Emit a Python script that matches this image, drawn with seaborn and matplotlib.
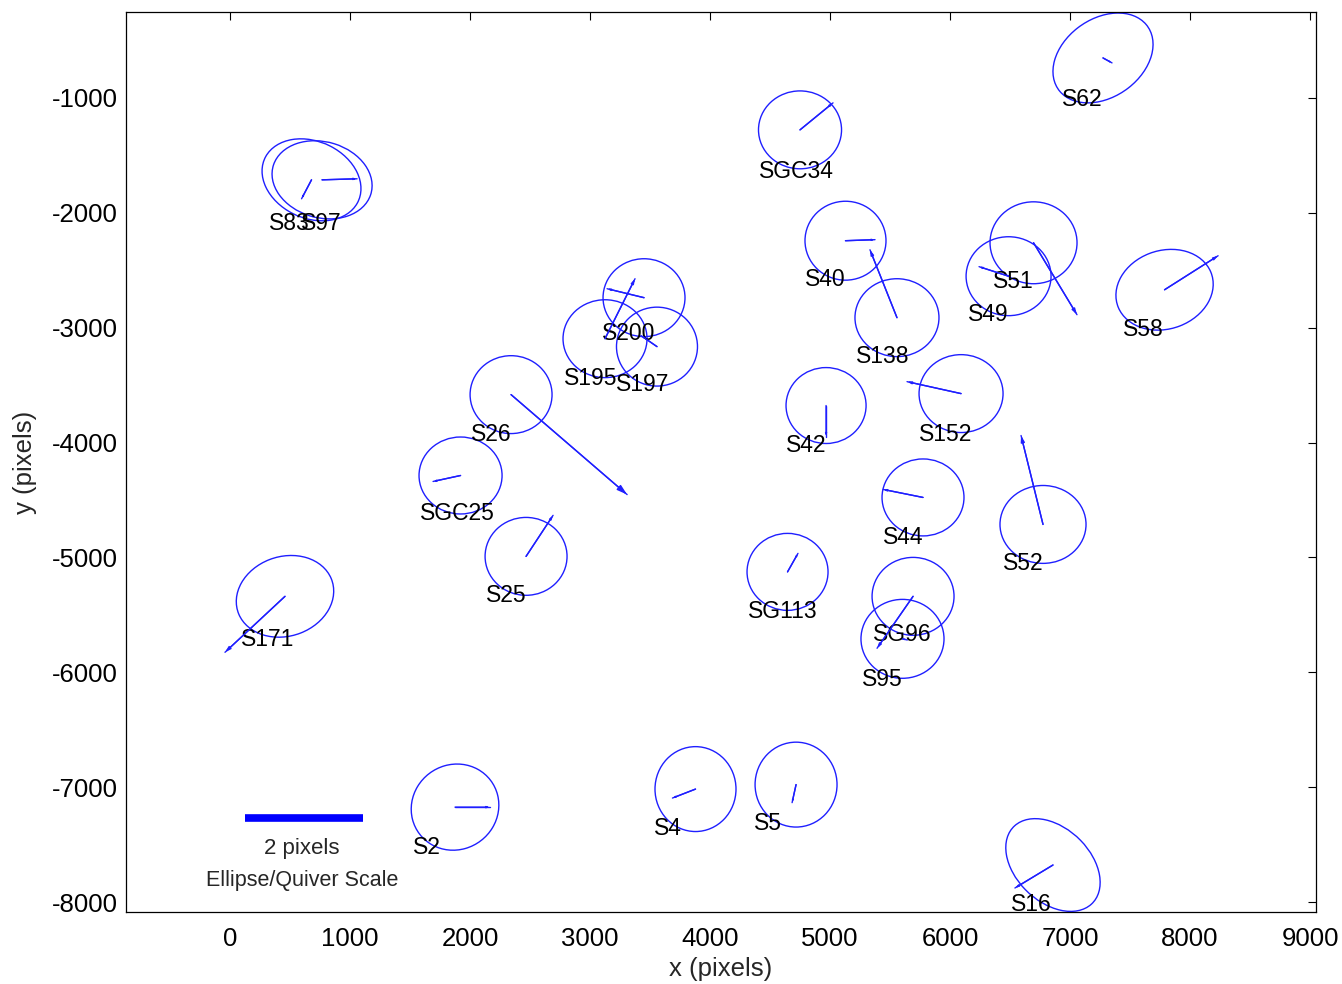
import numpy as np
import pandas as pd
import matplotlib
matplotlib.use("Agg")
import matplotlib.pyplot as plt
import seaborn as sns
from matplotlib.patches import Ellipse

# ---------------- data (detector pixel coordinates) ----------------
names = ["S62", "SGC34", "S83", "S97", "S40", "S51", "S49", "S58", "S138",
         "S200", "S195", "S197", "S26", "SGC25", "S25", "S42", "S152", "S44",
         "S52", "SG113", "SG96", "S95", "S171", "S2", "S4", "S5", "S16"]
star_x = [7275, 4750, 679, 767, 5129, 6696, 6488, 7788, 5558,
          3450, 3125, 3558, 2342, 1921, 2467, 4967, 6092, 5775,
          6775, 4646, 5692, 5604, 458, 1875, 3879, 4717, 6858]
star_y = [-652, -1278, -1713, -1713, -2243, -2261, -2552, -2670, -2913,
          -2739, -3096, -3165, -3583, -4287, -4991, -3678, -3574, -4478,
          -4713, -5126, -5339, -5709, -5339, -7174, -7017, -6978, -7678]
# error ellipse full widths / heights (scaled) and tilt angle (deg)
ell_w = [925, 692, 864, 850, 675, 725, 708, 830, 700,
         683, 700, 675, 683, 692, 683, 667, 700, 683,
         717, 675, 683, 692, 830, 760, 675, 683, 935]
ell_h = [672, 678, 665, 660, 687, 713, 687, 680, 678,
         678, 678, 687, 678, 670, 678, 661, 678, 670,
         678, 670, 678, 687, 690, 720, 739, 739, 629]
ell_ang = [39, 0, -28, -18, 0, 0, 0, 22, 0,
           0, 0, 0, 0, 0, 0, 0, 0, 0,
           0, 0, 0, 0, 22, 60, 0, 0, -47]
# residual vectors (scaled)
vec_u = [75, 275, -83, 292, 246, 362, -246, 446, -225,
         -308, 250, -133, 967, -229, 225, 0, -450, -333,
         -183, 87, -300, 40, -500, 292, -192, -33, -317]
vec_v = [-43, 235, -165, 9, 9, -626, 83, 296, 591,
         78, 522, 96, -870, -52, 357, -270, 104, 70,
         774, 161, -452, -10, -487, 0, -78, -157, -200]
# label anchor positions
lab_x = [7100, 4717, 492, 758, 4958, 6525, 6317, 7608, 5442,
         3325, 3008, 3442, 2175, 1892, 2300, 4800, 5967, 5608,
         6608, 4608, 5600, 5433, 317, 1642, 3650, 4483, 6675]
lab_y = [-1017, -1643, -2096, -2096, -2583, -2600, -2887, -3017, -3252,
         -3052, -3443, -3496, -3930, -4617, -5330, -4026, -3930, -4826,
         -5052, -5470, -5670, -6061, -5713, -7522, -7357, -7313, -8026]

scale_bar_x = [125, 1108]   # 2 pixels
scale_bar_y = -7270
scale_text = ["2 pixels", "Ellipse/Quiver Scale"]
scale_text_x = 600
scale_text_y = [-7531, -7809]

x_ticks = list(range(0, 9001, 1000))
y_ticks = list(range(-8000, -999, 1000))

# ---------------- style ----------------
sns.set_style("white")
plt.rcParams["font.family"] = ["Liberation Sans", "DejaVu Sans"]
plt.rcParams["axes.unicode_minus"] = False

BLUE = "#1f1fff"

fig = plt.figure(figsize=(13.42, 9.84), dpi=100)
fig.patch.set_facecolor("white")
ax = fig.add_axes([126 / 1342, 1 - 912 / 984, 1190 / 1342, 900 / 984])

# quiver shafts via seaborn
rows = []
for n, x, y, u, v in zip(names, star_x, star_y, vec_u, vec_v):
    rows.append({"name": n, "x": x, "y": y, "order": 0})
    rows.append({"name": n, "x": x + u, "y": y + v, "order": 1})
seg = pd.DataFrame(rows)
sns.lineplot(data=seg, x="x", y="y", units="name", estimator=None, sort=False,
             color=BLUE, lw=1.0, ax=ax, legend=False)

# ellipses
for x, y, w, h, a in zip(star_x, star_y, ell_w, ell_h, ell_ang):
    ax.add_patch(Ellipse((x, y), w, h, angle=a, fill=False, ec=BLUE, lw=1.0))

# labels
for n, lx, ly in zip(names, lab_x, lab_y):
    ax.text(lx, ly, n, ha="center", va="center", fontsize=16.5, color="black")

# scale bar
ax.plot(scale_bar_x, [scale_bar_y, scale_bar_y], color="#0000ff", lw=5.5,
        solid_capstyle="butt")
ax.text(scale_text_x, scale_text_y[0], scale_text[0], ha="center", va="center",
        fontsize=16)
ax.text(scale_text_x, scale_text_y[1], scale_text[1], ha="center", va="center",
        fontsize=15.5)

ax.set_xlim(-867, 9050)
ax.set_ylim(-8087, -252)
ax.set_xticks(x_ticks)
ax.set_yticks(y_ticks)
ax.tick_params(direction="in", top=True, right=True, length=6, width=0.8,
               labelsize=18.5, colors="black")
ax.tick_params(axis="x", pad=11)
ax.tick_params(axis="y", pad=6)
for s in ax.spines.values():
    s.set_color("black")
    s.set_linewidth(0.9)

ax.set_xlabel("x (pixels)", fontsize=18.5)
ax.set_ylabel("y (pixels)", fontsize=18.5)
ax.xaxis.set_label_coords(0.5, -0.0633)
ax.xaxis.label.set_va("center")
ax.yaxis.set_label_coords(-0.0849, 0.5)
ax.yaxis.label.set_va("center")

# arrow heads, size proportional to arrow length
fig.canvas.draw()
for x, y, u, v in zip(star_x, star_y, vec_u, vec_v):
    p0 = ax.transData.transform((x, y))
    p1 = ax.transData.transform((x + u, y + v))
    L_pt = np.hypot(*(p1 - p0)) * 72 / fig.dpi
    ms = 0.055 * L_pt
    ax.annotate("", xy=(x + u, y + v), xytext=(x, y),
                arrowprops=dict(arrowstyle="-|>,head_length=1.0,head_width=0.3",
                                color=BLUE, lw=1.0, mutation_scale=ms,
                                shrinkA=0, shrinkB=0))

fig.savefig("out.png", dpi=100, facecolor="white")
